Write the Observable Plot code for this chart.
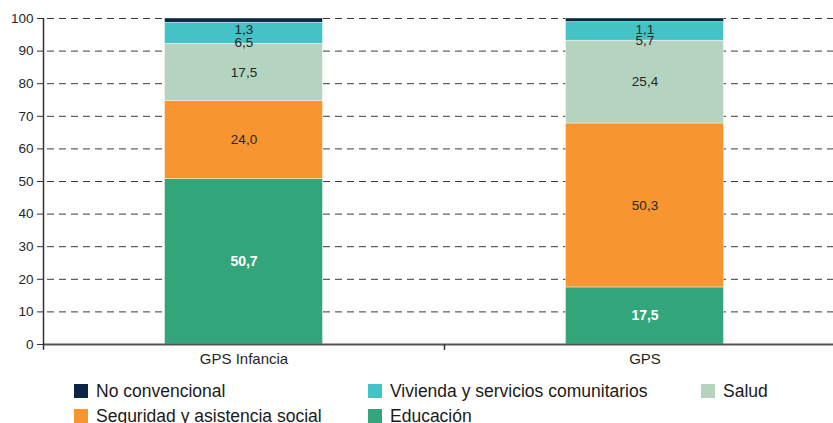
<!DOCTYPE html>
<html>
<head>
<meta charset="utf-8">
<script src="https://cdn.jsdelivr.net/npm/d3@7"></script>
<script src="https://cdn.jsdelivr.net/npm/@observablehq/plot@0.6"></script>
<style>
  html, body { margin: 0; padding: 0; background: #fff; }
  body { width: 833px; height: 423px; overflow: hidden; font-family: "Liberation Sans", Arial, sans-serif; }
  #chart svg { display: block; overflow: visible; }
  .legend { display: grid; grid-template-columns: 294px 333px auto; row-gap: 11px; margin-left: 74px; padding-top: 14px; }
  .item { display: flex; align-items: center; font-size: 17.5px; color: #1a1a1a; line-height: 14px; }
  .sw { width: 14px; height: 14px; margin-right: 8px; flex: none; }
</style>
</head>
<body>
<div id="chart"></div>
<script>
const categories = ["GPS Infancia", "GPS"];
const series = ["Educación", "Seguridad y asistencia social", "Salud", "Vivienda y servicios comunitarios", "No convencional"];
const colors = ["#32a67a", "#f79530", "#b4d4bf", "#45c2c5", "#0b2545"];
const valuesInfancia = [50.7, 24.0, 17.5, 6.5, 1.3];
const valuesGPS = [17.5, 50.3, 25.4, 5.7, 1.1];
const yTicks = [0, 10, 20, 30, 40, 50, 60, 70, 80, 90, 100];
const legendOrder = ["No convencional", "Vivienda y servicios comunitarios", "Salud", "Seguridad y asistencia social", "Educación"];

const data = [];
series.forEach((s, i) => data.push({cat: categories[0], series: s, value: valuesInfancia[i]}));
series.forEach((s, i) => data.push({cat: categories[1], series: s, value: valuesGPS[i]}));

const fmt = v => v.toFixed(1).replace(".", ",");
const small = new Set(["Vivienda y servicios comunitarios", "No convencional"]);

const chart = Plot.plot({
  width: 833,
  height: 370,
  marginTop: 18,
  marginBottom: 26,
  marginLeft: 43,
  marginRight: 0,
  style: {fontFamily: "Liberation Sans, Arial, sans-serif", background: "#fff", overflow: "visible"},
  x: {domain: categories, range: [43, 845], padding: 0, label: null},
  y: {domain: [0, 100], label: null},
  color: {domain: series, range: colors},
  marks: [
    Plot.ruleY(yTicks.filter(t => t > 0), {y: d => d, stroke: "#3a3a3a", strokeWidth: 1, strokeDasharray: "7,5", insetLeft: 4}),
    Plot.barY(data, {x: "cat", y: "value", fill: "series", z: "series", insetLeft: 121.5, insetRight: 121.5, stroke: "#ffffff", strokeWidth: 0.6, strokeOpacity: 0.7}),
    Plot.text(data, Plot.stackY({x: "cat", y: "value", z: "series",
      text: d => d.series === "Educación" ? fmt(d.value) : null,
      fill: "#ffffff", fontWeight: "bold", fontSize: 14})),
    Plot.text(data, Plot.stackY({x: "cat", y: "value", z: "series",
      text: d => (d.series !== "Educación" && !small.has(d.series)) ? fmt(d.value) : null,
      fill: "#262626", fontSize: 13.5})),
    Plot.text(data, Plot.stackY({x: "cat", y: "value", z: "series",
      text: d => small.has(d.series) ? fmt(d.value) : null,
      fill: "#262626", fontSize: 13.5, dy: 9})),
    Plot.ruleY([0], {stroke: "#555", strokeWidth: 2}),
    Plot.ruleX(categories, {x: d => d, dx: -200.5, y1: 0, y2: -1.8, stroke: "#333", strokeWidth: 1.5}),
    Plot.ruleX([0], {x: () => categories[0], dx: -200.5, y1: 0, y2: 100, stroke: "#333", strokeWidth: 1.5}),
    Plot.axisY(yTicks, {tickSize: 6, tickPadding: 4, fontSize: 13.5, color: "#262626", stroke: "#333"}),
    Plot.axisX({tickSize: 0, tickPadding: 8.5, fontSize: 15, color: "#262626"})
  ]
});
document.getElementById("chart").appendChild(chart);

const legend = document.createElement("div");
legend.className = "legend";
legendOrder.forEach(s => {
  const item = document.createElement("div");
  item.className = "item";
  const sw = document.createElement("span");
  sw.className = "sw";
  sw.style.background = colors[series.indexOf(s)];
  item.appendChild(sw);
  item.appendChild(document.createTextNode(s));
  legend.appendChild(item);
});
document.body.appendChild(legend);
</script>
</body>
</html>
